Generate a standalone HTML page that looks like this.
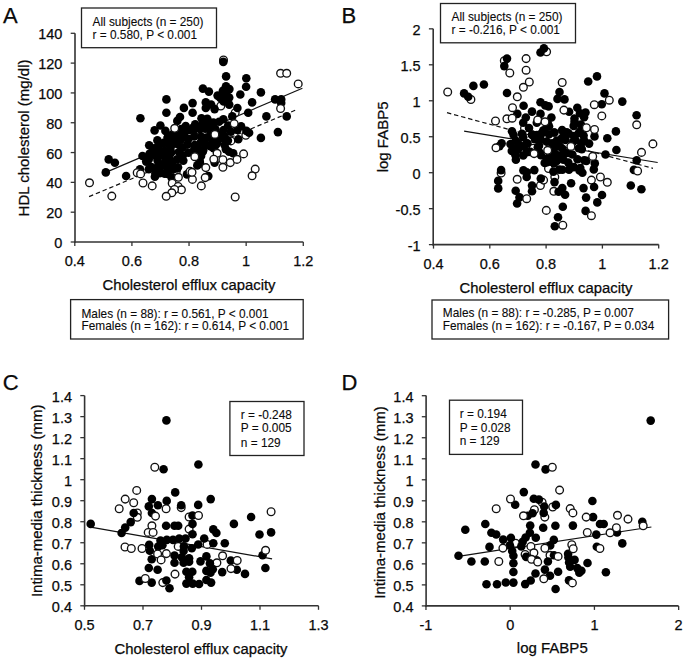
<!DOCTYPE html>
<html><head><meta charset="utf-8"><style>
html,body{margin:0;padding:0;background:#fff;}
svg{display:block;}
text{font-family:"Liberation Sans", sans-serif;fill:#0a0a0a;stroke:#0a0a0a;stroke-width:0.25px;}
text.bx{stroke-width:0.1px;}
</style></head><body>
<svg width="685" height="660" viewBox="0 0 685 660">
<rect width="685" height="660" fill="#fff"/>
<line x1="75.00" y1="33.30" x2="75.00" y2="242.80" stroke="#333" stroke-width="1.6" />
<line x1="74.20" y1="242.00" x2="303.30" y2="242.00" stroke="#333" stroke-width="1.6" />
<line x1="70.70" y1="242.00" x2="75.00" y2="242.00" stroke="#333" stroke-width="1.3" />
<text x="62.40" y="248.00" font-size="14.5" text-anchor="end" >0</text>
<line x1="70.70" y1="212.19" x2="75.00" y2="212.19" stroke="#333" stroke-width="1.3" />
<text x="62.40" y="218.19" font-size="14.5" text-anchor="end" >20</text>
<line x1="70.70" y1="182.37" x2="75.00" y2="182.37" stroke="#333" stroke-width="1.3" />
<text x="62.40" y="188.37" font-size="14.5" text-anchor="end" >40</text>
<line x1="70.70" y1="152.56" x2="75.00" y2="152.56" stroke="#333" stroke-width="1.3" />
<text x="62.40" y="158.56" font-size="14.5" text-anchor="end" >60</text>
<line x1="70.70" y1="122.74" x2="75.00" y2="122.74" stroke="#333" stroke-width="1.3" />
<text x="62.40" y="128.74" font-size="14.5" text-anchor="end" >80</text>
<line x1="70.70" y1="92.93" x2="75.00" y2="92.93" stroke="#333" stroke-width="1.3" />
<text x="62.40" y="98.93" font-size="14.5" text-anchor="end" >100</text>
<line x1="70.70" y1="63.11" x2="75.00" y2="63.11" stroke="#333" stroke-width="1.3" />
<text x="62.40" y="69.11" font-size="14.5" text-anchor="end" >120</text>
<line x1="70.70" y1="33.30" x2="75.00" y2="33.30" stroke="#333" stroke-width="1.3" />
<text x="62.40" y="39.30" font-size="14.5" text-anchor="end" >140</text>
<line x1="74.80" y1="242.00" x2="74.80" y2="246.00" stroke="#333" stroke-width="1.3" />
<text x="74.80" y="266.40" font-size="14.5" text-anchor="middle" >0.4</text>
<line x1="131.92" y1="242.00" x2="131.92" y2="246.00" stroke="#333" stroke-width="1.3" />
<text x="131.92" y="266.40" font-size="14.5" text-anchor="middle" >0.6</text>
<line x1="189.04" y1="242.00" x2="189.04" y2="246.00" stroke="#333" stroke-width="1.3" />
<text x="189.04" y="266.40" font-size="14.5" text-anchor="middle" >0.8</text>
<line x1="246.16" y1="242.00" x2="246.16" y2="246.00" stroke="#333" stroke-width="1.3" />
<text x="246.16" y="266.40" font-size="14.5" text-anchor="middle" >1</text>
<line x1="303.28" y1="242.00" x2="303.28" y2="246.00" stroke="#333" stroke-width="1.3" />
<text x="303.28" y="266.40" font-size="14.5" text-anchor="middle" >1.2</text>
<line x1="433.20" y1="28.80" x2="433.20" y2="245.40" stroke="#333" stroke-width="1.6" />
<line x1="432.40" y1="244.60" x2="658.70" y2="244.60" stroke="#333" stroke-width="1.6" />
<line x1="428.90" y1="28.84" x2="433.20" y2="28.84" stroke="#333" stroke-width="1.3" />
<text x="420.60" y="34.84" font-size="14.5" text-anchor="end" >2</text>
<line x1="428.90" y1="64.80" x2="433.20" y2="64.80" stroke="#333" stroke-width="1.3" />
<text x="420.60" y="70.80" font-size="14.5" text-anchor="end" >1.5</text>
<line x1="428.90" y1="100.77" x2="433.20" y2="100.77" stroke="#333" stroke-width="1.3" />
<text x="420.60" y="106.77" font-size="14.5" text-anchor="end" >1</text>
<line x1="428.90" y1="136.73" x2="433.20" y2="136.73" stroke="#333" stroke-width="1.3" />
<text x="420.60" y="142.73" font-size="14.5" text-anchor="end" >0.5</text>
<line x1="428.90" y1="172.70" x2="433.20" y2="172.70" stroke="#333" stroke-width="1.3" />
<text x="420.60" y="178.70" font-size="14.5" text-anchor="end" >0</text>
<line x1="428.90" y1="208.66" x2="433.20" y2="208.66" stroke="#333" stroke-width="1.3" />
<text x="420.60" y="214.66" font-size="14.5" text-anchor="end" >-0.5</text>
<line x1="428.90" y1="244.63" x2="433.20" y2="244.63" stroke="#333" stroke-width="1.3" />
<text x="420.60" y="250.63" font-size="14.5" text-anchor="end" >-1</text>
<line x1="433.50" y1="244.60" x2="433.50" y2="248.60" stroke="#333" stroke-width="1.3" />
<text x="433.50" y="269.00" font-size="14.5" text-anchor="middle" >0.4</text>
<line x1="489.80" y1="244.60" x2="489.80" y2="248.60" stroke="#333" stroke-width="1.3" />
<text x="489.80" y="269.00" font-size="14.5" text-anchor="middle" >0.6</text>
<line x1="546.10" y1="244.60" x2="546.10" y2="248.60" stroke="#333" stroke-width="1.3" />
<text x="546.10" y="269.00" font-size="14.5" text-anchor="middle" >0.8</text>
<line x1="602.40" y1="244.60" x2="602.40" y2="248.60" stroke="#333" stroke-width="1.3" />
<text x="602.40" y="269.00" font-size="14.5" text-anchor="middle" >1</text>
<line x1="658.70" y1="244.60" x2="658.70" y2="248.60" stroke="#333" stroke-width="1.3" />
<text x="658.70" y="269.00" font-size="14.5" text-anchor="middle" >1.2</text>
<line x1="84.60" y1="395.60" x2="84.60" y2="606.60" stroke="#333" stroke-width="1.6" />
<line x1="83.80" y1="605.80" x2="318.50" y2="605.80" stroke="#333" stroke-width="1.6" />
<line x1="80.30" y1="395.60" x2="84.60" y2="395.60" stroke="#333" stroke-width="1.3" />
<text x="72.00" y="401.60" font-size="14.5" text-anchor="end" >1.4</text>
<line x1="80.30" y1="416.62" x2="84.60" y2="416.62" stroke="#333" stroke-width="1.3" />
<text x="72.00" y="422.62" font-size="14.5" text-anchor="end" >1.3</text>
<line x1="80.30" y1="437.64" x2="84.60" y2="437.64" stroke="#333" stroke-width="1.3" />
<text x="72.00" y="443.64" font-size="14.5" text-anchor="end" >1.2</text>
<line x1="80.30" y1="458.66" x2="84.60" y2="458.66" stroke="#333" stroke-width="1.3" />
<text x="72.00" y="464.66" font-size="14.5" text-anchor="end" >1.1</text>
<line x1="80.30" y1="479.68" x2="84.60" y2="479.68" stroke="#333" stroke-width="1.3" />
<text x="72.00" y="485.68" font-size="14.5" text-anchor="end" >1</text>
<line x1="80.30" y1="500.70" x2="84.60" y2="500.70" stroke="#333" stroke-width="1.3" />
<text x="72.00" y="506.70" font-size="14.5" text-anchor="end" >0.9</text>
<line x1="80.30" y1="521.72" x2="84.60" y2="521.72" stroke="#333" stroke-width="1.3" />
<text x="72.00" y="527.72" font-size="14.5" text-anchor="end" >0.8</text>
<line x1="80.30" y1="542.74" x2="84.60" y2="542.74" stroke="#333" stroke-width="1.3" />
<text x="72.00" y="548.74" font-size="14.5" text-anchor="end" >0.7</text>
<line x1="80.30" y1="563.76" x2="84.60" y2="563.76" stroke="#333" stroke-width="1.3" />
<text x="72.00" y="569.76" font-size="14.5" text-anchor="end" >0.6</text>
<line x1="80.30" y1="584.78" x2="84.60" y2="584.78" stroke="#333" stroke-width="1.3" />
<text x="72.00" y="590.78" font-size="14.5" text-anchor="end" >0.5</text>
<line x1="80.30" y1="605.80" x2="84.60" y2="605.80" stroke="#333" stroke-width="1.3" />
<text x="72.00" y="611.80" font-size="14.5" text-anchor="end" >0.4</text>
<line x1="84.50" y1="605.80" x2="84.50" y2="609.80" stroke="#333" stroke-width="1.3" />
<text x="84.50" y="630.20" font-size="14.5" text-anchor="middle" >0.5</text>
<line x1="143.00" y1="605.80" x2="143.00" y2="609.80" stroke="#333" stroke-width="1.3" />
<text x="143.00" y="630.20" font-size="14.5" text-anchor="middle" >0.7</text>
<line x1="201.50" y1="605.80" x2="201.50" y2="609.80" stroke="#333" stroke-width="1.3" />
<text x="201.50" y="630.20" font-size="14.5" text-anchor="middle" >0.9</text>
<line x1="260.00" y1="605.80" x2="260.00" y2="609.80" stroke="#333" stroke-width="1.3" />
<text x="260.00" y="630.20" font-size="14.5" text-anchor="middle" >1.1</text>
<line x1="318.50" y1="605.80" x2="318.50" y2="609.80" stroke="#333" stroke-width="1.3" />
<text x="318.50" y="630.20" font-size="14.5" text-anchor="middle" >1.3</text>
<line x1="426.10" y1="395.60" x2="426.10" y2="606.70" stroke="#333" stroke-width="1.6" />
<line x1="425.30" y1="605.90" x2="678.60" y2="605.90" stroke="#333" stroke-width="1.6" />
<line x1="421.80" y1="395.70" x2="426.10" y2="395.70" stroke="#333" stroke-width="1.3" />
<text x="413.50" y="401.70" font-size="14.5" text-anchor="end" >1.4</text>
<line x1="421.80" y1="416.72" x2="426.10" y2="416.72" stroke="#333" stroke-width="1.3" />
<text x="413.50" y="422.72" font-size="14.5" text-anchor="end" >1.3</text>
<line x1="421.80" y1="437.74" x2="426.10" y2="437.74" stroke="#333" stroke-width="1.3" />
<text x="413.50" y="443.74" font-size="14.5" text-anchor="end" >1.2</text>
<line x1="421.80" y1="458.76" x2="426.10" y2="458.76" stroke="#333" stroke-width="1.3" />
<text x="413.50" y="464.76" font-size="14.5" text-anchor="end" >1.1</text>
<line x1="421.80" y1="479.78" x2="426.10" y2="479.78" stroke="#333" stroke-width="1.3" />
<text x="413.50" y="485.78" font-size="14.5" text-anchor="end" >1</text>
<line x1="421.80" y1="500.80" x2="426.10" y2="500.80" stroke="#333" stroke-width="1.3" />
<text x="413.50" y="506.80" font-size="14.5" text-anchor="end" >0.9</text>
<line x1="421.80" y1="521.82" x2="426.10" y2="521.82" stroke="#333" stroke-width="1.3" />
<text x="413.50" y="527.82" font-size="14.5" text-anchor="end" >0.8</text>
<line x1="421.80" y1="542.84" x2="426.10" y2="542.84" stroke="#333" stroke-width="1.3" />
<text x="413.50" y="548.84" font-size="14.5" text-anchor="end" >0.7</text>
<line x1="421.80" y1="563.86" x2="426.10" y2="563.86" stroke="#333" stroke-width="1.3" />
<text x="413.50" y="569.86" font-size="14.5" text-anchor="end" >0.6</text>
<line x1="421.80" y1="584.88" x2="426.10" y2="584.88" stroke="#333" stroke-width="1.3" />
<text x="413.50" y="590.88" font-size="14.5" text-anchor="end" >0.5</text>
<line x1="421.80" y1="605.90" x2="426.10" y2="605.90" stroke="#333" stroke-width="1.3" />
<text x="413.50" y="611.90" font-size="14.5" text-anchor="end" >0.4</text>
<line x1="425.97" y1="605.90" x2="425.97" y2="609.90" stroke="#333" stroke-width="1.3" />
<text x="425.97" y="630.30" font-size="14.5" text-anchor="middle" >-1</text>
<line x1="510.20" y1="605.90" x2="510.20" y2="609.90" stroke="#333" stroke-width="1.3" />
<text x="510.20" y="630.30" font-size="14.5" text-anchor="middle" >0</text>
<line x1="594.43" y1="605.90" x2="594.43" y2="609.90" stroke="#333" stroke-width="1.3" />
<text x="594.43" y="630.30" font-size="14.5" text-anchor="middle" >1</text>
<line x1="678.66" y1="605.90" x2="678.66" y2="609.90" stroke="#333" stroke-width="1.3" />
<text x="678.66" y="630.30" font-size="14.5" text-anchor="middle" >2</text>
<text x="2.90" y="22.70" font-size="22" text-anchor="start" >A</text>
<text x="341.50" y="22.60" font-size="22" text-anchor="start" >B</text>
<text x="2.80" y="390.40" font-size="22" text-anchor="start" >C</text>
<text x="341.40" y="390.20" font-size="22" text-anchor="start" >D</text>
<text x="189.00" y="290.00" font-size="14.85" text-anchor="middle" >Cholesterol efflux capacity</text>
<text x="546.00" y="293.00" font-size="14.85" text-anchor="middle" >Cholesterol efflux capacity</text>
<text x="201.00" y="653.60" font-size="14.85" text-anchor="middle" >Cholesterol efflux capacity</text>
<text x="552.30" y="653.20" font-size="15" text-anchor="middle" >log FABP5</text>
<text transform="translate(29.1,137.95) rotate(-90)" font-size="15" text-anchor="middle">HDL cholesterol (mg/dl)</text>
<text transform="translate(387.6,136.9) rotate(-90)" font-size="15" text-anchor="middle">log FABP5</text>
<text transform="translate(42.3,500.8) rotate(-90)" font-size="15" text-anchor="middle">Intima-media thickness (mm)</text>
<text transform="translate(385,502.5) rotate(-90)" font-size="15" text-anchor="middle">Intima-media thickness (mm)</text>
<rect x="81.50" y="8.00" width="135.00" height="39.70" fill="none" stroke="#222" stroke-width="1.3"/>
<text x="92.50" y="26.00" font-size="11.85" text-anchor="start"  class="bx">All subjects (n = 250)</text>
<text x="92.50" y="39.00" font-size="11.85" text-anchor="start"  class="bx">r = 0.580, P &lt; 0.001</text>
<rect x="440.50" y="3.50" width="135.00" height="39.30" fill="none" stroke="#222" stroke-width="1.3"/>
<text x="451.50" y="21.00" font-size="11.85" text-anchor="start"  class="bx">All subjects (n = 250)</text>
<text x="451.50" y="34.00" font-size="11.85" text-anchor="start"  class="bx">r = -0.216, P &lt; 0.001</text>
<rect x="70.60" y="299.60" width="232.60" height="39.40" fill="none" stroke="#222" stroke-width="1.3"/>
<text x="81.50" y="317.60" font-size="11.85" text-anchor="start"  class="bx">Males (n = 88): r = 0.561, P &lt; 0.001</text>
<text x="81.50" y="330.30" font-size="11.85" text-anchor="start"  class="bx">Females (n = 162): r = 0.614, P &lt; 0.001</text>
<rect x="432.00" y="300.00" width="236.60" height="39.00" fill="none" stroke="#222" stroke-width="1.3"/>
<text x="442.80" y="317.30" font-size="11.85" text-anchor="start"  class="bx">Males (n = 88): r = -0.285, P = 0.007</text>
<text x="442.80" y="330.20" font-size="11.85" text-anchor="start"  class="bx">Females (n = 162): r = -0.167, P = 0.034</text>
<rect x="229.90" y="401.50" width="74.10" height="54.00" fill="none" stroke="#222" stroke-width="1.3"/>
<text x="240.80" y="418.80" font-size="11.85" text-anchor="start"  class="bx">r = -0.248</text>
<text x="240.80" y="432.30" font-size="11.85" text-anchor="start"  class="bx">P = 0.005</text>
<text x="240.80" y="446.60" font-size="11.85" text-anchor="start"  class="bx">n = 129</text>
<rect x="449.50" y="400.20" width="73.00" height="54.20" fill="none" stroke="#222" stroke-width="1.3"/>
<text x="459.70" y="418.00" font-size="11.85" text-anchor="start"  class="bx">r = 0.194</text>
<text x="459.70" y="431.50" font-size="11.85" text-anchor="start"  class="bx">P = 0.028</text>
<text x="459.70" y="445.40" font-size="11.85" text-anchor="start"  class="bx">n = 129</text>
<line x1="105.80" y1="172.40" x2="302.40" y2="88.20" stroke="#111" stroke-width="1.2" />
<line x1="89.10" y1="196.60" x2="295.20" y2="110.30" stroke="#111" stroke-width="1.2" stroke-dasharray="4.4 2.9"/>
<g fill="#fff" stroke="#111" stroke-width="1.35"><circle cx="150.2" cy="157.4" r="3.85"/><circle cx="220.8" cy="106.0" r="3.85"/><circle cx="235.2" cy="112.7" r="3.85"/><circle cx="184.2" cy="146.1" r="3.85"/><circle cx="245.8" cy="135.3" r="3.85"/><circle cx="176.3" cy="171.2" r="3.85"/><circle cx="153.6" cy="162.7" r="3.85"/><circle cx="175.4" cy="146.4" r="3.85"/><circle cx="170.9" cy="145.4" r="3.85"/><circle cx="230.9" cy="140.9" r="3.85"/><circle cx="223.5" cy="59.9" r="3.85"/></g>
<g fill="#000"><circle cx="156.6" cy="168.0" r="4.3"/><circle cx="210.7" cy="133.0" r="4.3"/><circle cx="187.6" cy="144.5" r="4.3"/><circle cx="216.9" cy="143.5" r="4.3"/><circle cx="183.3" cy="160.6" r="4.3"/><circle cx="164.7" cy="173.8" r="4.3"/><circle cx="163.6" cy="142.9" r="4.3"/><circle cx="182.7" cy="147.3" r="4.3"/><circle cx="200.2" cy="129.0" r="4.3"/><circle cx="171.1" cy="152.7" r="4.3"/><circle cx="188.5" cy="152.8" r="4.3"/><circle cx="159.9" cy="150.4" r="4.3"/><circle cx="177.2" cy="143.9" r="4.3"/><circle cx="148.7" cy="159.5" r="4.3"/><circle cx="194.7" cy="145.1" r="4.3"/><circle cx="194.0" cy="129.8" r="4.3"/><circle cx="175.7" cy="138.4" r="4.3"/><circle cx="167.0" cy="167.7" r="4.3"/><circle cx="202.9" cy="122.9" r="4.3"/><circle cx="154.4" cy="154.9" r="4.3"/><circle cx="206.2" cy="144.8" r="4.3"/><circle cx="181.2" cy="129.1" r="4.3"/><circle cx="188.9" cy="130.3" r="4.3"/><circle cx="157.6" cy="160.4" r="4.3"/><circle cx="203.3" cy="150.1" r="4.3"/><circle cx="164.2" cy="156.3" r="4.3"/><circle cx="179.0" cy="152.0" r="4.3"/><circle cx="170.5" cy="147.5" r="4.3"/><circle cx="173.0" cy="169.4" r="4.3"/><circle cx="212.2" cy="140.3" r="4.3"/><circle cx="224.6" cy="145.0" r="4.3"/><circle cx="165.8" cy="161.9" r="4.3"/><circle cx="201.1" cy="156.0" r="4.3"/><circle cx="194.8" cy="153.2" r="4.3"/><circle cx="213.4" cy="122.5" r="4.3"/><circle cx="154.2" cy="148.3" r="4.3"/><circle cx="200.6" cy="142.6" r="4.3"/><circle cx="177.0" cy="159.4" r="4.3"/><circle cx="194.2" cy="136.4" r="4.3"/><circle cx="188.3" cy="139.1" r="4.3"/><circle cx="171.2" cy="141.6" r="4.3"/><circle cx="198.3" cy="149.3" r="4.3"/><circle cx="181.3" cy="139.0" r="4.3"/><circle cx="151.4" cy="167.0" r="4.3"/><circle cx="165.0" cy="151.1" r="4.3"/><circle cx="206.5" cy="137.5" r="4.3"/><circle cx="210.2" cy="127.0" r="4.3"/><circle cx="199.8" cy="161.9" r="4.3"/><circle cx="195.2" cy="124.2" r="4.3"/><circle cx="216.5" cy="135.2" r="4.3"/><circle cx="201.0" cy="136.5" r="4.3"/><circle cx="211.8" cy="146.7" r="4.3"/><circle cx="178.0" cy="167.2" r="4.3"/><circle cx="161.9" cy="165.3" r="4.3"/><circle cx="159.7" cy="173.2" r="4.3"/><circle cx="172.1" cy="162.2" r="4.3"/><circle cx="205.2" cy="128.8" r="4.3"/><circle cx="215.5" cy="129.2" r="4.3"/><circle cx="172.6" cy="134.4" r="4.3"/><circle cx="169.2" cy="157.6" r="4.3"/><circle cx="149.5" cy="153.7" r="4.3"/><circle cx="182.8" cy="155.3" r="4.3"/><circle cx="158.7" cy="145.2" r="4.3"/><circle cx="167.5" cy="137.8" r="4.3"/><circle cx="177.4" cy="132.4" r="4.3"/><circle cx="184.0" cy="133.6" r="4.3"/><circle cx="185.7" cy="126.1" r="4.3"/><circle cx="208.2" cy="121.5" r="4.3"/><circle cx="108.7" cy="159.4" r="4.3"/><circle cx="114.9" cy="162.7" r="4.3"/><circle cx="105.8" cy="172.4" r="4.3"/><circle cx="126.1" cy="176.0" r="4.3"/><circle cx="154.6" cy="130.4" r="4.3"/><circle cx="149.2" cy="145.3" r="4.3"/><circle cx="157.4" cy="140.4" r="4.3"/><circle cx="142.5" cy="156.0" r="4.3"/><circle cx="146.2" cy="161.6" r="4.3"/><circle cx="140.0" cy="169.4" r="4.3"/><circle cx="148.8" cy="169.2" r="4.3"/><circle cx="155.4" cy="173.6" r="4.3"/><circle cx="158.8" cy="163.6" r="4.3"/><circle cx="157.6" cy="153.9" r="4.3"/><circle cx="152.7" cy="150.3" r="4.3"/><circle cx="223.3" cy="61.9" r="4.3"/><circle cx="226.1" cy="76.4" r="4.3"/><circle cx="202.9" cy="88.6" r="4.3"/><circle cx="208.9" cy="91.6" r="4.3"/><circle cx="226.0" cy="86.2" r="4.3"/><circle cx="229.4" cy="89.1" r="4.3"/><circle cx="222.9" cy="90.9" r="4.3"/><circle cx="217.6" cy="95.6" r="4.3"/><circle cx="220.3" cy="98.0" r="4.3"/><circle cx="229.2" cy="97.6" r="4.3"/><circle cx="229.2" cy="104.6" r="4.3"/><circle cx="240.3" cy="94.5" r="4.3"/><circle cx="205.8" cy="102.4" r="4.3"/><circle cx="205.8" cy="108.0" r="4.3"/><circle cx="211.1" cy="104.5" r="4.3"/><circle cx="214.6" cy="109.1" r="4.3"/><circle cx="192.6" cy="103.1" r="4.3"/><circle cx="192.6" cy="112.7" r="4.3"/><circle cx="183.9" cy="107.9" r="4.3"/><circle cx="166.4" cy="99.4" r="4.3"/><circle cx="166.4" cy="112.7" r="4.3"/><circle cx="180.0" cy="117.0" r="4.3"/><circle cx="201.5" cy="118.3" r="4.3"/><circle cx="207.3" cy="118.8" r="4.3"/><circle cx="223.4" cy="119.3" r="4.3"/><circle cx="232.3" cy="116.4" r="4.3"/><circle cx="237.4" cy="108.0" r="4.3"/><circle cx="246.3" cy="78.2" r="4.3"/><circle cx="246.1" cy="86.7" r="4.3"/><circle cx="260.9" cy="92.4" r="4.3"/><circle cx="252.1" cy="102.4" r="4.3"/><circle cx="248.2" cy="112.7" r="4.3"/><circle cx="275.1" cy="99.4" r="4.3"/><circle cx="281.2" cy="99.4" r="4.3"/><circle cx="281.2" cy="103.0" r="4.3"/><circle cx="266.4" cy="116.4" r="4.3"/><circle cx="286.7" cy="116.4" r="4.3"/><circle cx="140.4" cy="118.2" r="4.3"/><circle cx="225.8" cy="149.1" r="4.3"/><circle cx="233.2" cy="153.2" r="4.3"/><circle cx="214.6" cy="162.6" r="4.3"/><circle cx="208.3" cy="176.1" r="4.3"/><circle cx="187.0" cy="174.4" r="4.3"/><circle cx="160.0" cy="172.1" r="4.3"/><circle cx="171.6" cy="177.6" r="4.3"/><circle cx="200.0" cy="163.6" r="4.3"/><circle cx="199.4" cy="159.1" r="4.3"/><circle cx="167.7" cy="173.9" r="4.3"/><circle cx="177.0" cy="168.5" r="4.3"/><circle cx="193.9" cy="150.3" r="4.3"/><circle cx="210.4" cy="146.1" r="4.3"/><circle cx="217.0" cy="140.6" r="4.3"/><circle cx="227.9" cy="140.6" r="4.3"/><circle cx="238.3" cy="139.2" r="4.3"/><circle cx="241.1" cy="126.2" r="4.3"/><circle cx="249.1" cy="132.7" r="4.3"/><circle cx="260.9" cy="137.9" r="4.3"/><circle cx="277.9" cy="132.1" r="4.3"/><circle cx="160.4" cy="125.5" r="4.3"/><circle cx="165.4" cy="130.9" r="4.3"/><circle cx="154.9" cy="176.7" r="4.3"/><circle cx="161.8" cy="154.6" r="4.3"/><circle cx="157.3" cy="150.0" r="4.3"/><circle cx="166.4" cy="142.7" r="4.3"/><circle cx="168.2" cy="136.4" r="4.3"/><circle cx="173.6" cy="136.4" r="4.3"/><circle cx="177.3" cy="120.9" r="4.3"/><circle cx="226.4" cy="94.5" r="4.3"/><circle cx="193.6" cy="127.3" r="4.3"/><circle cx="246.4" cy="130.9" r="4.3"/><circle cx="229.1" cy="151.8" r="4.3"/><circle cx="220.9" cy="138.2" r="4.3"/><circle cx="197.3" cy="165.4" r="4.3"/><circle cx="202.7" cy="151.8" r="4.3"/><circle cx="215.4" cy="145.4" r="4.3"/><circle cx="223.6" cy="101.4" r="4.3"/><circle cx="219.1" cy="121.8" r="4.3"/><circle cx="212.7" cy="124.5" r="4.3"/><circle cx="228.2" cy="125.5" r="4.3"/><circle cx="237.3" cy="130.0" r="4.3"/><circle cx="230.9" cy="131.8" r="4.3"/><circle cx="223.6" cy="130.0" r="4.3"/><circle cx="219.1" cy="134.6" r="4.3"/><circle cx="213.6" cy="138.2" r="4.3"/><circle cx="224.6" cy="136.4" r="4.3"/><circle cx="213.6" cy="148.2" r="4.3"/><circle cx="211.8" cy="130.0" r="4.3"/></g>
<g fill="#fff" stroke="#111" stroke-width="1.35"><circle cx="89.5" cy="182.8" r="3.85"/><circle cx="111.8" cy="196.1" r="3.85"/><circle cx="143.0" cy="183.0" r="3.85"/><circle cx="152.2" cy="185.9" r="3.85"/><circle cx="137.2" cy="172.7" r="3.85"/><circle cx="140.6" cy="173.9" r="3.85"/><circle cx="280.6" cy="73.3" r="3.85"/><circle cx="286.7" cy="73.3" r="3.85"/><circle cx="298.2" cy="83.9" r="3.85"/><circle cx="280.6" cy="108.5" r="3.85"/><circle cx="174.7" cy="128.3" r="3.85"/><circle cx="194.8" cy="156.7" r="3.85"/><circle cx="205.8" cy="167.6" r="3.85"/><circle cx="217.1" cy="153.3" r="3.85"/><circle cx="222.9" cy="159.7" r="3.85"/><circle cx="213.8" cy="159.2" r="3.85"/><circle cx="230.3" cy="162.6" r="3.85"/><circle cx="237.0" cy="159.4" r="3.85"/><circle cx="222.9" cy="167.3" r="3.85"/><circle cx="192.4" cy="179.4" r="3.85"/><circle cx="201.3" cy="185.9" r="3.85"/><circle cx="178.4" cy="177.3" r="3.85"/><circle cx="172.2" cy="183.2" r="3.85"/><circle cx="178.1" cy="186.5" r="3.85"/><circle cx="181.4" cy="189.8" r="3.85"/><circle cx="174.5" cy="189.5" r="3.85"/><circle cx="171.8" cy="192.8" r="3.85"/><circle cx="166.2" cy="196.3" r="3.85"/><circle cx="190.0" cy="171.4" r="3.85"/><circle cx="205.2" cy="177.6" r="3.85"/><circle cx="235.2" cy="197.0" r="3.85"/><circle cx="234.2" cy="123.6" r="3.85"/><circle cx="214.9" cy="134.4" r="3.85"/><circle cx="243.6" cy="153.9" r="3.85"/><circle cx="255.2" cy="169.1" r="3.85"/><circle cx="252.1" cy="175.8" r="3.85"/><circle cx="192.0" cy="172.3" r="3.85"/></g>
<line x1="464.10" y1="131.10" x2="657.70" y2="162.50" stroke="#111" stroke-width="1.2" />
<line x1="447.00" y1="112.70" x2="653.00" y2="168.30" stroke="#111" stroke-width="1.2" stroke-dasharray="4.4 2.9"/>
<g fill="#fff" stroke="#111" stroke-width="1.35"><circle cx="504.3" cy="60.7" r="3.85"/><circle cx="470.9" cy="99.5" r="3.85"/><circle cx="546.6" cy="51.8" r="3.85"/><circle cx="501.1" cy="173.0" r="3.85"/><circle cx="515.9" cy="142.7" r="3.85"/><circle cx="533.2" cy="148.2" r="3.85"/><circle cx="524.5" cy="128.2" r="3.85"/><circle cx="579.1" cy="163.6" r="3.85"/><circle cx="540.4" cy="185.5" r="3.85"/><circle cx="543.6" cy="180.1" r="3.85"/><circle cx="548.5" cy="168.5" r="3.85"/><circle cx="554.8" cy="177.0" r="3.85"/><circle cx="553.8" cy="191.3" r="3.85"/><circle cx="591.4" cy="180.1" r="3.85"/></g>
<g fill="#000"><circle cx="530.3" cy="151.9" r="4.3"/><circle cx="541.0" cy="155.2" r="4.3"/><circle cx="532.0" cy="134.9" r="4.3"/><circle cx="578.8" cy="148.2" r="4.3"/><circle cx="562.4" cy="169.7" r="4.3"/><circle cx="553.4" cy="162.8" r="4.3"/><circle cx="572.4" cy="154.5" r="4.3"/><circle cx="522.0" cy="133.9" r="4.3"/><circle cx="561.8" cy="138.6" r="4.3"/><circle cx="552.1" cy="143.2" r="4.3"/><circle cx="568.8" cy="133.6" r="4.3"/><circle cx="544.2" cy="130.3" r="4.3"/><circle cx="563.2" cy="154.8" r="4.3"/><circle cx="568.3" cy="162.6" r="4.3"/><circle cx="540.5" cy="139.2" r="4.3"/><circle cx="580.3" cy="131.3" r="4.3"/><circle cx="553.9" cy="132.5" r="4.3"/><circle cx="584.2" cy="160.2" r="4.3"/><circle cx="518.0" cy="149.6" r="4.3"/><circle cx="549.8" cy="154.9" r="4.3"/><circle cx="573.3" cy="141.5" r="4.3"/><circle cx="544.7" cy="162.9" r="4.3"/><circle cx="527.4" cy="143.6" r="4.3"/><circle cx="584.0" cy="140.3" r="4.3"/><circle cx="580.3" cy="168.1" r="4.3"/><circle cx="553.4" cy="171.6" r="4.3"/><circle cx="515.9" cy="140.8" r="4.3"/><circle cx="537.8" cy="147.3" r="4.3"/><circle cx="573.7" cy="125.9" r="4.3"/><circle cx="507.0" cy="58.6" r="4.3"/><circle cx="504.3" cy="66.1" r="4.3"/><circle cx="473.4" cy="85.9" r="4.3"/><circle cx="483.9" cy="84.5" r="4.3"/><circle cx="464.1" cy="93.4" r="4.3"/><circle cx="468.2" cy="96.8" r="4.3"/><circle cx="507.0" cy="93.0" r="4.3"/><circle cx="517.3" cy="113.9" r="4.3"/><circle cx="543.9" cy="48.4" r="4.3"/><circle cx="540.5" cy="52.5" r="4.3"/><circle cx="597.0" cy="76.4" r="4.3"/><circle cx="588.2" cy="81.5" r="4.3"/><circle cx="559.5" cy="92.0" r="4.3"/><circle cx="557.5" cy="98.9" r="4.3"/><circle cx="564.5" cy="99.4" r="4.3"/><circle cx="604.5" cy="93.4" r="4.3"/><circle cx="601.8" cy="104.3" r="4.3"/><circle cx="523.6" cy="105.7" r="4.3"/><circle cx="532.0" cy="111.6" r="4.3"/><circle cx="540.5" cy="102.3" r="4.3"/><circle cx="548.6" cy="106.4" r="4.3"/><circle cx="540.5" cy="113.9" r="4.3"/><circle cx="525.8" cy="117.5" r="4.3"/><circle cx="551.4" cy="117.5" r="4.3"/><circle cx="569.1" cy="111.8" r="4.3"/><circle cx="577.3" cy="107.7" r="4.3"/><circle cx="585.5" cy="112.5" r="4.3"/><circle cx="584.1" cy="117.3" r="4.3"/><circle cx="574.5" cy="118.6" r="4.3"/><circle cx="622.3" cy="101.6" r="4.3"/><circle cx="636.6" cy="115.2" r="4.3"/><circle cx="512.0" cy="131.2" r="4.3"/><circle cx="513.6" cy="135.0" r="4.3"/><circle cx="510.5" cy="144.1" r="4.3"/><circle cx="501.6" cy="143.4" r="4.3"/><circle cx="499.5" cy="146.1" r="4.3"/><circle cx="511.8" cy="150.9" r="4.3"/><circle cx="515.5" cy="155.2" r="4.3"/><circle cx="515.9" cy="159.8" r="4.3"/><circle cx="501.1" cy="170.1" r="4.3"/><circle cx="498.2" cy="180.9" r="4.3"/><circle cx="498.2" cy="188.4" r="4.3"/><circle cx="515.7" cy="190.7" r="4.3"/><circle cx="519.5" cy="197.4" r="4.3"/><circle cx="518.6" cy="144.1" r="4.3"/><circle cx="523.2" cy="122.7" r="4.3"/><circle cx="536.8" cy="122.7" r="4.3"/><circle cx="547.7" cy="122.7" r="4.3"/><circle cx="549.0" cy="126.2" r="4.3"/><circle cx="529.0" cy="128.0" r="4.3"/><circle cx="523.2" cy="137.3" r="4.3"/><circle cx="532.3" cy="134.5" r="4.3"/><circle cx="541.4" cy="133.6" r="4.3"/><circle cx="549.0" cy="134.3" r="4.3"/><circle cx="554.5" cy="132.5" r="4.3"/><circle cx="562.1" cy="130.1" r="4.3"/><circle cx="562.3" cy="137.9" r="4.3"/><circle cx="515.9" cy="148.2" r="4.3"/><circle cx="523.2" cy="146.4" r="4.3"/><circle cx="526.8" cy="152.1" r="4.3"/><circle cx="523.2" cy="155.5" r="4.3"/><circle cx="535.0" cy="139.1" r="4.3"/><circle cx="539.0" cy="145.7" r="4.3"/><circle cx="540.0" cy="152.9" r="4.3"/><circle cx="546.8" cy="141.6" r="4.3"/><circle cx="554.1" cy="148.4" r="4.3"/><circle cx="559.5" cy="146.4" r="4.3"/><circle cx="547.2" cy="158.8" r="4.3"/><circle cx="552.3" cy="155.5" r="4.3"/><circle cx="556.8" cy="160.9" r="4.3"/><circle cx="561.4" cy="155.5" r="4.3"/><circle cx="523.4" cy="170.4" r="4.3"/><circle cx="534.3" cy="170.1" r="4.3"/><circle cx="580.0" cy="113.3" r="4.3"/><circle cx="574.5" cy="121.8" r="4.3"/><circle cx="580.9" cy="124.5" r="4.3"/><circle cx="578.9" cy="132.9" r="4.3"/><circle cx="583.6" cy="135.5" r="4.3"/><circle cx="594.5" cy="136.4" r="4.3"/><circle cx="607.3" cy="138.2" r="4.3"/><circle cx="615.9" cy="131.4" r="4.3"/><circle cx="616.4" cy="150.0" r="4.3"/><circle cx="605.5" cy="154.5" r="4.3"/><circle cx="565.5" cy="140.0" r="4.3"/><circle cx="575.5" cy="140.0" r="4.3"/><circle cx="589.1" cy="143.6" r="4.3"/><circle cx="581.8" cy="149.1" r="4.3"/><circle cx="562.5" cy="148.8" r="4.3"/><circle cx="568.0" cy="152.9" r="4.3"/><circle cx="577.5" cy="159.3" r="4.3"/><circle cx="586.4" cy="160.9" r="4.3"/><circle cx="594.8" cy="163.4" r="4.3"/><circle cx="563.4" cy="159.8" r="4.3"/><circle cx="573.9" cy="167.1" r="4.3"/><circle cx="593.8" cy="169.4" r="4.3"/><circle cx="636.7" cy="160.4" r="4.3"/><circle cx="633.9" cy="169.9" r="4.3"/><circle cx="526.7" cy="177.0" r="4.3"/><circle cx="532.0" cy="185.5" r="4.3"/><circle cx="532.0" cy="191.3" r="4.3"/><circle cx="517.1" cy="203.5" r="4.3"/><circle cx="540.8" cy="178.6" r="4.3"/><circle cx="547.1" cy="162.1" r="4.3"/><circle cx="554.5" cy="182.1" r="4.3"/><circle cx="571.1" cy="183.3" r="4.3"/><circle cx="562.3" cy="188.1" r="4.3"/><circle cx="558.6" cy="191.8" r="4.3"/><circle cx="565.1" cy="194.8" r="4.3"/><circle cx="562.8" cy="206.7" r="4.3"/><circle cx="558.0" cy="217.3" r="4.3"/><circle cx="554.8" cy="226.3" r="4.3"/><circle cx="583.5" cy="188.1" r="4.3"/><circle cx="594.1" cy="187.0" r="4.3"/><circle cx="586.1" cy="197.6" r="4.3"/><circle cx="602.0" cy="195.0" r="4.3"/><circle cx="597.3" cy="202.4" r="4.3"/><circle cx="585.6" cy="210.9" r="4.3"/><circle cx="559.3" cy="169.6" r="4.3"/><circle cx="569.0" cy="169.6" r="4.3"/><circle cx="582.4" cy="172.7" r="4.3"/><circle cx="630.8" cy="185.5" r="4.3"/><circle cx="641.4" cy="189.2" r="4.3"/><circle cx="545.3" cy="105.4" r="4.3"/><circle cx="536.8" cy="135.0" r="4.3"/><circle cx="543.2" cy="130.5" r="4.3"/><circle cx="566.8" cy="132.3" r="4.3"/><circle cx="556.8" cy="140.5" r="4.3"/><circle cx="526.8" cy="143.2" r="4.3"/><circle cx="556.8" cy="155.0" r="4.3"/><circle cx="554.1" cy="163.2" r="4.3"/><circle cx="579.5" cy="170.5" r="4.3"/><circle cx="581.4" cy="143.2" r="4.3"/><circle cx="526.8" cy="172.3" r="4.3"/><circle cx="574.0" cy="136.0" r="4.3"/></g>
<g fill="#fff" stroke="#111" stroke-width="1.35"><circle cx="447.7" cy="92.0" r="3.85"/><circle cx="509.8" cy="73.0" r="3.85"/><circle cx="517.3" cy="96.8" r="3.85"/><circle cx="512.5" cy="107.7" r="3.85"/><circle cx="495.5" cy="121.0" r="3.85"/><circle cx="506.9" cy="118.8" r="3.85"/><circle cx="512.2" cy="118.2" r="3.85"/><circle cx="526.1" cy="58.6" r="3.85"/><circle cx="526.1" cy="70.2" r="3.85"/><circle cx="529.3" cy="82.0" r="3.85"/><circle cx="523.4" cy="87.3" r="3.85"/><circle cx="562.2" cy="82.5" r="3.85"/><circle cx="563.9" cy="110.1" r="3.85"/><circle cx="594.3" cy="104.7" r="3.85"/><circle cx="601.8" cy="115.9" r="3.85"/><circle cx="609.3" cy="100.2" r="3.85"/><circle cx="496.0" cy="147.8" r="3.85"/><circle cx="517.2" cy="179.3" r="3.85"/><circle cx="537.7" cy="120.0" r="3.85"/><circle cx="545.0" cy="121.8" r="3.85"/><circle cx="534.1" cy="153.6" r="3.85"/><circle cx="594.5" cy="129.5" r="3.85"/><circle cx="586.4" cy="127.7" r="3.85"/><circle cx="592.7" cy="156.4" r="3.85"/><circle cx="570.9" cy="146.4" r="3.85"/><circle cx="636.7" cy="124.8" r="3.85"/><circle cx="652.9" cy="143.9" r="3.85"/><circle cx="641.5" cy="152.4" r="3.85"/><circle cx="637.6" cy="171.0" r="3.85"/><circle cx="526.7" cy="198.7" r="3.85"/><circle cx="546.3" cy="210.4" r="3.85"/><circle cx="562.8" cy="225.2" r="3.85"/><circle cx="591.4" cy="215.7" r="3.85"/><circle cx="600.4" cy="177.0" r="3.85"/><circle cx="607.3" cy="182.3" r="3.85"/><circle cx="547.7" cy="150.3" r="3.85"/></g>
<line x1="90.60" y1="527.10" x2="272.10" y2="558.90" stroke="#111" stroke-width="1.2" />
<g fill="#fff" stroke="#111" stroke-width="1.35"><circle cx="137.3" cy="513.0" r="3.85"/><circle cx="137.3" cy="517.3" r="3.85"/><circle cx="162.8" cy="582.6" r="3.85"/><circle cx="189.1" cy="517.0" r="3.85"/><circle cx="189.1" cy="529.1" r="3.85"/><circle cx="207.1" cy="544.4" r="3.85"/><circle cx="178.2" cy="546.4" r="3.85"/><circle cx="216.9" cy="562.8" r="3.85"/><circle cx="181.2" cy="507.6" r="3.85"/></g>
<g fill="#000"><circle cx="90.7" cy="523.9" r="4.3"/><circle cx="121.6" cy="533.0" r="4.3"/><circle cx="125.2" cy="527.6" r="4.3"/><circle cx="130.7" cy="522.1" r="4.3"/><circle cx="133.7" cy="513.0" r="4.3"/><circle cx="151.9" cy="499.1" r="4.3"/><circle cx="157.9" cy="505.2" r="4.3"/><circle cx="148.8" cy="506.4" r="4.3"/><circle cx="151.9" cy="513.0" r="4.3"/><circle cx="160.5" cy="540.6" r="4.3"/><circle cx="149.2" cy="544.9" r="4.3"/><circle cx="158.2" cy="546.6" r="4.3"/><circle cx="149.8" cy="550.7" r="4.3"/><circle cx="151.7" cy="559.3" r="4.3"/><circle cx="148.8" cy="568.0" r="4.3"/><circle cx="157.6" cy="569.8" r="4.3"/><circle cx="139.5" cy="580.9" r="4.3"/><circle cx="151.7" cy="582.6" r="4.3"/><circle cx="166.4" cy="420.4" r="4.3"/><circle cx="163.6" cy="469.3" r="4.3"/><circle cx="198.4" cy="464.5" r="4.3"/><circle cx="175.2" cy="492.4" r="4.3"/><circle cx="166.7" cy="500.9" r="4.3"/><circle cx="181.2" cy="505.2" r="4.3"/><circle cx="198.2" cy="504.9" r="4.3"/><circle cx="210.7" cy="499.1" r="4.3"/><circle cx="192.5" cy="515.5" r="4.3"/><circle cx="192.5" cy="523.9" r="4.3"/><circle cx="166.1" cy="525.8" r="4.3"/><circle cx="174.5" cy="525.8" r="4.3"/><circle cx="178.2" cy="525.8" r="4.3"/><circle cx="213.3" cy="529.4" r="4.3"/><circle cx="216.4" cy="533.0" r="4.3"/><circle cx="233.9" cy="523.9" r="4.3"/><circle cx="192.5" cy="534.2" r="4.3"/><circle cx="204.2" cy="538.5" r="4.3"/><circle cx="213.3" cy="543.3" r="4.3"/><circle cx="224.8" cy="543.3" r="4.3"/><circle cx="198.2" cy="544.5" r="4.3"/><circle cx="166.8" cy="539.9" r="4.3"/><circle cx="173.0" cy="539.9" r="4.3"/><circle cx="179.2" cy="538.5" r="4.3"/><circle cx="185.5" cy="538.5" r="4.3"/><circle cx="183.9" cy="546.4" r="4.3"/><circle cx="162.4" cy="545.2" r="4.3"/><circle cx="183.6" cy="550.9" r="4.3"/><circle cx="191.8" cy="548.2" r="4.3"/><circle cx="174.5" cy="555.5" r="4.3"/><circle cx="174.5" cy="562.7" r="4.3"/><circle cx="181.8" cy="557.3" r="4.3"/><circle cx="183.6" cy="562.7" r="4.3"/><circle cx="189.1" cy="558.2" r="4.3"/><circle cx="189.1" cy="561.8" r="4.3"/><circle cx="200.5" cy="561.4" r="4.3"/><circle cx="206.4" cy="556.4" r="4.3"/><circle cx="186.4" cy="571.8" r="4.3"/><circle cx="192.3" cy="571.8" r="4.3"/><circle cx="189.1" cy="577.3" r="4.3"/><circle cx="186.4" cy="583.6" r="4.3"/><circle cx="192.7" cy="583.6" r="4.3"/><circle cx="199.1" cy="584.0" r="4.3"/><circle cx="166.4" cy="580.5" r="4.3"/><circle cx="169.5" cy="588.2" r="4.3"/><circle cx="206.4" cy="570.9" r="4.3"/><circle cx="206.4" cy="580.0" r="4.3"/><circle cx="251.1" cy="517.0" r="4.3"/><circle cx="259.5" cy="534.5" r="4.3"/><circle cx="271.1" cy="532.4" r="4.3"/><circle cx="262.6" cy="555.2" r="4.3"/><circle cx="230.8" cy="560.5" r="4.3"/><circle cx="209.9" cy="563.4" r="4.3"/><circle cx="212.8" cy="569.2" r="4.3"/><circle cx="210.5" cy="572.7" r="4.3"/><circle cx="222.2" cy="572.1" r="4.3"/><circle cx="236.8" cy="569.8" r="4.3"/><circle cx="245.0" cy="573.9" r="4.3"/><circle cx="211.1" cy="582.6" r="4.3"/><circle cx="265.4" cy="568.0" r="4.3"/></g>
<g fill="#fff" stroke="#111" stroke-width="1.35"><circle cx="136.7" cy="490.4" r="3.85"/><circle cx="125.2" cy="499.1" r="3.85"/><circle cx="133.7" cy="502.7" r="3.85"/><circle cx="119.2" cy="508.8" r="3.85"/><circle cx="155.5" cy="516.1" r="3.85"/><circle cx="151.9" cy="525.8" r="3.85"/><circle cx="148.2" cy="532.4" r="3.85"/><circle cx="153.1" cy="532.4" r="3.85"/><circle cx="125.0" cy="547.0" r="3.85"/><circle cx="131.3" cy="548.5" r="3.85"/><circle cx="142.0" cy="548.5" r="3.85"/><circle cx="157.6" cy="554.0" r="3.85"/><circle cx="161.1" cy="559.9" r="3.85"/><circle cx="145.3" cy="578.5" r="3.85"/><circle cx="154.8" cy="467.3" r="3.85"/><circle cx="166.1" cy="508.8" r="3.85"/><circle cx="198.5" cy="515.5" r="3.85"/><circle cx="166.4" cy="553.6" r="3.85"/><circle cx="175.0" cy="574.1" r="3.85"/><circle cx="271.1" cy="511.8" r="3.85"/><circle cx="265.6" cy="550.3" r="3.85"/><circle cx="222.6" cy="555.8" r="3.85"/><circle cx="237.2" cy="560.5" r="3.85"/><circle cx="231.0" cy="568.6" r="3.85"/></g>
<line x1="458.50" y1="556.30" x2="651.40" y2="527.00" stroke="#111" stroke-width="1.2" />
<g fill="#fff" stroke="#111" stroke-width="1.35"><circle cx="534.4" cy="509.7" r="3.85"/><circle cx="515.6" cy="543.2" r="3.85"/><circle cx="525.1" cy="554.5" r="3.85"/><circle cx="530.9" cy="546.4" r="3.85"/><circle cx="542.1" cy="502.3" r="3.85"/><circle cx="544.8" cy="517.1" r="3.85"/><circle cx="552.7" cy="507.0" r="3.85"/><circle cx="550.0" cy="555.3" r="3.85"/></g>
<g fill="#000"><circle cx="535.5" cy="464.5" r="4.3"/><circle cx="523.8" cy="492.1" r="4.3"/><circle cx="533.8" cy="498.8" r="4.3"/><circle cx="515.2" cy="504.8" r="4.3"/><circle cx="485.3" cy="524.0" r="4.3"/><circle cx="465.3" cy="529.7" r="4.3"/><circle cx="491.4" cy="532.7" r="4.3"/><circle cx="496.2" cy="534.5" r="4.3"/><circle cx="503.2" cy="539.6" r="4.3"/><circle cx="510.9" cy="537.9" r="4.3"/><circle cx="527.7" cy="515.8" r="4.3"/><circle cx="532.6" cy="513.3" r="4.3"/><circle cx="530.2" cy="525.5" r="4.3"/><circle cx="529.9" cy="532.7" r="4.3"/><circle cx="525.6" cy="537.5" r="4.3"/><circle cx="509.9" cy="545.2" r="4.3"/><circle cx="512.2" cy="551.0" r="4.3"/><circle cx="513.4" cy="555.7" r="4.3"/><circle cx="513.4" cy="563.3" r="4.3"/><circle cx="513.4" cy="572.0" r="4.3"/><circle cx="489.5" cy="546.9" r="4.3"/><circle cx="458.5" cy="555.7" r="4.3"/><circle cx="471.4" cy="561.5" r="4.3"/><circle cx="484.8" cy="561.5" r="4.3"/><circle cx="486.5" cy="584.3" r="4.3"/><circle cx="497.0" cy="584.3" r="4.3"/><circle cx="505.8" cy="582.5" r="4.3"/><circle cx="513.4" cy="582.6" r="4.3"/><circle cx="525.2" cy="584.1" r="4.3"/><circle cx="530.7" cy="580.5" r="4.3"/><circle cx="535.5" cy="573.5" r="4.3"/><circle cx="521.3" cy="546.4" r="4.3"/><circle cx="522.7" cy="541.7" r="4.3"/><circle cx="526.2" cy="556.9" r="4.3"/><circle cx="538.9" cy="499.6" r="4.3"/><circle cx="544.2" cy="506.5" r="4.3"/><circle cx="543.7" cy="512.9" r="4.3"/><circle cx="555.9" cy="504.9" r="4.3"/><circle cx="543.2" cy="527.7" r="4.3"/><circle cx="555.4" cy="525.8" r="4.3"/><circle cx="572.9" cy="525.6" r="4.3"/><circle cx="535.8" cy="537.8" r="4.3"/><circle cx="553.8" cy="539.9" r="4.3"/><circle cx="550.2" cy="545.4" r="4.3"/><circle cx="536.7" cy="560.4" r="4.3"/><circle cx="547.9" cy="561.5" r="4.3"/><circle cx="554.0" cy="555.3" r="4.3"/><circle cx="544.9" cy="569.6" r="4.3"/><circle cx="550.0" cy="575.8" r="4.3"/><circle cx="558.1" cy="571.7" r="4.3"/><circle cx="555.6" cy="589.0" r="4.3"/><circle cx="569.0" cy="580.4" r="4.3"/><circle cx="568.4" cy="557.4" r="4.3"/><circle cx="570.2" cy="566.8" r="4.3"/><circle cx="574.6" cy="559.9" r="4.3"/><circle cx="592.4" cy="501.0" r="4.3"/><circle cx="593.1" cy="517.1" r="4.3"/><circle cx="600.0" cy="524.0" r="4.3"/><circle cx="603.7" cy="524.0" r="4.3"/><circle cx="596.3" cy="534.6" r="4.3"/><circle cx="617.0" cy="532.5" r="4.3"/><circle cx="622.3" cy="543.4" r="4.3"/><circle cx="596.8" cy="546.8" r="4.3"/><circle cx="568.1" cy="553.8" r="4.3"/><circle cx="569.1" cy="562.5" r="4.3"/><circle cx="587.5" cy="563.0" r="4.3"/><circle cx="577.3" cy="568.1" r="4.3"/><circle cx="581.4" cy="570.7" r="4.3"/><circle cx="579.3" cy="572.7" r="4.3"/><circle cx="605.9" cy="572.2" r="4.3"/><circle cx="642.3" cy="521.8" r="4.3"/><circle cx="650.7" cy="420.6" r="4.3"/><circle cx="545.6" cy="469.4" r="4.3"/></g>
<g fill="#fff" stroke="#111" stroke-width="1.35"><circle cx="510.5" cy="499.0" r="3.85"/><circle cx="496.2" cy="508.8" r="3.85"/><circle cx="523.5" cy="515.8" r="3.85"/><circle cx="502.9" cy="548.1" r="3.85"/><circle cx="498.8" cy="561.5" r="3.85"/><circle cx="533.9" cy="552.8" r="3.85"/><circle cx="531.5" cy="559.3" r="3.85"/><circle cx="559.6" cy="490.1" r="3.85"/><circle cx="570.2" cy="508.6" r="3.85"/><circle cx="572.9" cy="512.9" r="3.85"/><circle cx="571.8" cy="544.7" r="3.85"/><circle cx="537.7" cy="562.0" r="3.85"/><circle cx="543.8" cy="578.8" r="3.85"/><circle cx="544.9" cy="548.2" r="3.85"/><circle cx="558.1" cy="556.4" r="3.85"/><circle cx="572.4" cy="582.9" r="3.85"/><circle cx="586.2" cy="517.1" r="3.85"/><circle cx="617.5" cy="515.3" r="3.85"/><circle cx="628.0" cy="519.1" r="3.85"/><circle cx="616.4" cy="527.7" r="3.85"/><circle cx="610.1" cy="532.8" r="3.85"/><circle cx="587.3" cy="532.5" r="3.85"/><circle cx="599.9" cy="548.5" r="3.85"/><circle cx="573.2" cy="548.7" r="3.85"/><circle cx="643.2" cy="525.8" r="3.85"/><circle cx="552.3" cy="467.3" r="3.85"/></g>
</svg></body></html>
